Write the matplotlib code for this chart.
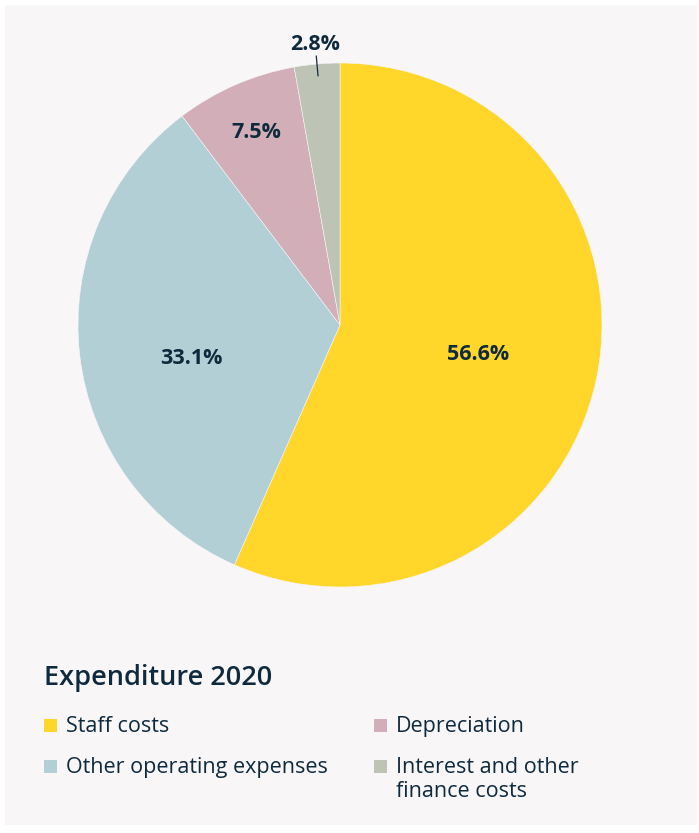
import matplotlib.pyplot as plt
from matplotlib.patches import Rectangle
import numpy as np

categories = ['Staff costs', 'Other operating expenses', 'Depreciation',
              'Interest and other\nfinance costs']
shares = [56.6, 33.1, 7.5, 2.8]
colors = ['#FFD629', '#B2CFD6', '#D2AFB8', '#BDC3B5']
title = 'Expenditure 2020'

W, H = 699, 833
navy = '#0f2a3d'
plt.rcParams['font.family'] = ['Open Sans', 'DejaVu Sans']

fig = plt.figure(figsize=(W / 100, H / 100), dpi=100, facecolor='white')
fig.patches.append(Rectangle((5 / W, 1 - 825 / H), 692 / W, 820 / H,
                             transform=fig.transFigure, facecolor='#f8f6f7',
                             edgecolor='none', zorder=-5))

cx, cy, r = 340, 325, 262
ax = fig.add_axes([(cx - r) / W, 1 - (cy + r) / H, 2 * r / W, 2 * r / H])
wedges, _ = ax.pie(shares, colors=colors, startangle=90, counterclock=False,
                   radius=1, wedgeprops=dict(linewidth=0.4, edgecolor='#f8f6f7'))
ax.set_xlim(-1, 1)
ax.set_ylim(-1, 1)
ax.set_aspect('equal')
ax.axis('off')

# label distance (fraction of radius) and small angle nudge per wedge
dist = [0.54, 0.58, 0.80, 1.075]
nudge = [0, 6, 0, 0]
for w, s, d, n in zip(wedges, shares, dist, nudge):
    mid = np.deg2rad((w.theta1 + w.theta2) / 2 + n)
    x, y = d * np.cos(mid), d * np.sin(mid)
    ax.text(x, y, f'{s}%', ha='center', va='center', fontsize=15.5,
            fontweight='bold', color=navy)
    if d > 1:
        ax.plot([0.955 * np.cos(mid), 1.03 * np.cos(mid)],
                [0.955 * np.sin(mid), 1.03 * np.sin(mid)],
                color=navy, lw=0.9, clip_on=False)

fig.text(44 / W, 1 - 678 / H, title, ha='left', va='center', fontsize=19.5,
         fontweight='semibold', color=navy)

legend_pos = [(44, 725), (44, 766), (374, 725), (374, 766)]
for (lx, ly), lab, c in zip(legend_pos, categories, colors):
    fig.patches.append(Rectangle((lx / W, 1 - (ly + 7) / H), 13 / W, 13 / H,
                                 transform=fig.transFigure, facecolor=c,
                                 edgecolor='none'))
    fig.text((lx + 22) / W, 1 - (ly - 9) / H, lab, ha='left', va='top',
             fontsize=15.5, color=navy, linespacing=1.2)

fig.savefig('out.png', dpi=100, facecolor='white')
